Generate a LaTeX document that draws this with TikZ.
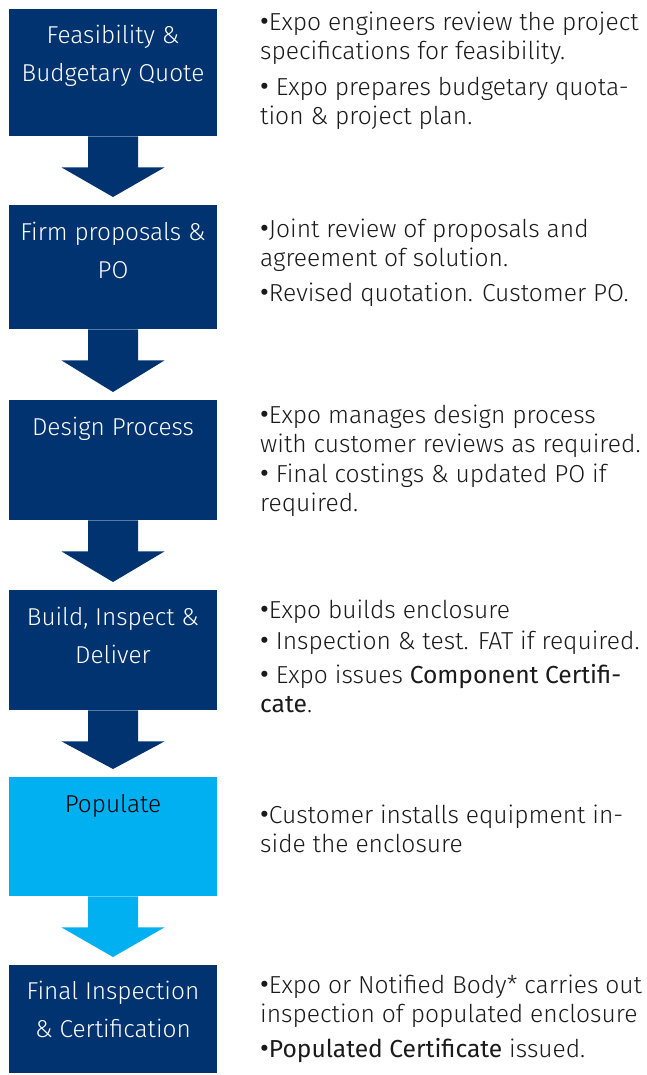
\documentclass[tikz,border=0pt]{standalone}
\usepackage{fontspec}
\setmainfont{Fira Sans Light}[BoldFont={Fira Sans}]
\usetikzlibrary{calc}
\definecolor{expodark}{HTML}{00336F}
\definecolor{expolight}{HTML}{00B0F0}
\definecolor{bodytext}{HTML}{1A1A1A}
\tikzset{
  stepbox/.style={fill=#1, draw=none, rectangle, minimum width=208pt, inner sep=0pt, anchor=north},
  boxtitle/.style={anchor=base, align=center, inner sep=0pt, text=white,
    font=\fontsize{24.4}{38}\selectfont},
  desc/.style={anchor=base west, align=left, inner sep=0pt, text=bodytext,
    font=\fontsize{24.6}{29}\selectfont},
}
\newcommand{\flowarrow}[3]{%
  \fill[#3] let \p1=(#1.south), \p2=(#2.north) in
    (\x1-25pt,\y1) -- (\x1+25pt,\y1) -- (\x1+25pt,\y1-31pt) -- (\x1+51.5pt,\y1-31pt)
    -- (\x1,\y2+8pt) -- (\x1-51.5pt,\y1-31pt) -- (\x1-25pt,\y1-31pt) -- cycle;
}
\newcommand{\keyword}[1]{\textbf{#1}}
\newcommand{\bul}{{\fontsize{27}{29}\selectfont\bfseries •}}
\begin{document}
\begin{tikzpicture}[x=1pt,y=-1pt]
\useasboundingbox (0,0) rectangle (646,1075);
% boxes
\node[stepbox=expodark,  minimum height=127pt] (b1) at (113,9)   {};
\node[stepbox=expodark,  minimum height=124pt] (b2) at (113,205) {};
\node[stepbox=expodark,  minimum height=120pt] (b3) at (113,400) {};
\node[stepbox=expodark,  minimum height=120pt] (b4) at (113,590) {};
\node[stepbox=expolight, minimum height=119pt] (b5) at (113,777) {};
\node[stepbox=expodark,  minimum height=108pt] (b6) at (113,965) {};
% arrows
\flowarrow{b1}{b2}{expodark}
\flowarrow{b2}{b3}{expodark}
\flowarrow{b3}{b4}{expodark}
\flowarrow{b4}{b5}{expodark}
\flowarrow{b5}{b6}{expolight}
% titles (anchor = baseline of last line)
\node[boxtitle] (t1) at ($(b1.north)+(0,73)$) {Feasibility \&\\Budgetary Quote};
\node[boxtitle] (t2) at ($(b2.north)+(0,73)$) {Firm proposals \&\\PO};
\node[boxtitle] (t3) at ($(b3.north)+(0,35)$) {Design Process};
\node[boxtitle] (t4) at ($(b4.north)+(0,73)$) {Build, Inspect \&\\Deliver};
\node[boxtitle, text=black] (t5) at ($(b5.north)+(0,35)$) {Populate};
\node[boxtitle] (t6) at ($(b6.north)+(0,72)$) {Final Inspection\\\& Certification};
% descriptions (anchor = baseline of last line)
\node[desc] (d1) at (260,125) {\bul Expo engineers review the project\\specifications for feasibility.\\[7pt]\bul\ Expo prepares budgetary quota-\\tion \& project plan.};
\node[desc] (d2) at (260,301) {\bul Joint review of proposals and\\agreement of solution.\\[6pt]\bul Revised quotation. Customer PO.};
\node[desc] (d3) at (260,511) {\bul Expo manages design process\\with customer reviews as required.\\[1pt]\bul\ Final costings \& updated PO if\\required.};
\node[desc] (d4) at (260,712) {\bul Expo builds enclosure\\[2pt]\bul\ Inspection \& test. FAT if required.\\[5pt]\bul\ Expo issues \keyword{Component Certifi-}\\\keyword{cate}.};
\node[desc] (d5) at (260,852) {\bul Customer installs equipment in-\\side the enclosure};
\node[desc] (d6) at (260,1057) {\bul Expo or Notified Body* carries out\\inspection of populated enclosure\\[6pt]\bul\keyword{Populated Certificate} issued.};
\end{tikzpicture}
\end{document}
